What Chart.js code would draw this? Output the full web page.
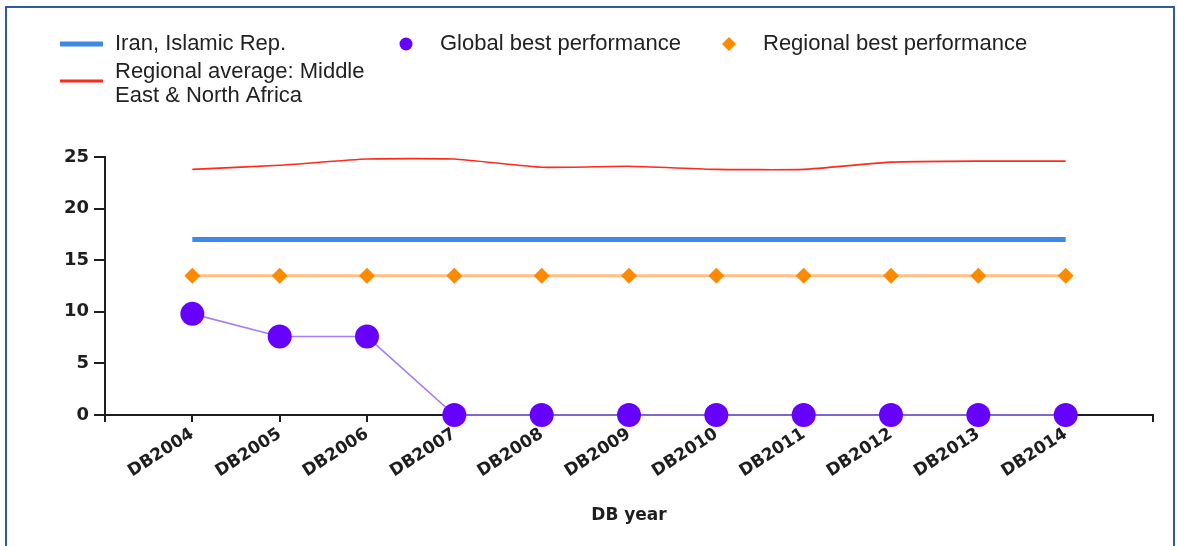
<!DOCTYPE html>
<html>
<head>
<meta charset="utf-8">
<script src="https://cdn.jsdelivr.net/npm/chart.js@4/dist/chart.umd.min.js"></script>
<style>
  html, body { margin: 0; padding: 0; background: #fff; }
  #wrap { position: relative; width: 1177px; height: 546px; overflow: hidden; }
  #frame { position: absolute; left: 5px; top: 6px; width: 1166px; height: 600px; border: 2px solid #2b5d9c; pointer-events: none; }
  canvas { position: absolute; left: 0; top: 0; }
</style>
</head>
<body>
<div id="wrap">
  <canvas id="chart" width="1177" height="546"></canvas>
  <div id="frame"></div>
</div>
<script>
// DB years on the x axis
const years = ['DB2004', 'DB2005', 'DB2006', 'DB2007', 'DB2008', 'DB2009', 'DB2010', 'DB2011', 'DB2012', 'DB2013', 'DB2014'];

// series values
const iran = [17, 17, 17, 17, 17, 17, 17, 17, 17, 17, 17];
const regionalAverage = [23.8, 24.2, 24.8, 24.8, 24.0, 24.1, 23.8, 23.8, 24.5, 24.6, 24.6];
const globalBest = [9.8, 7.6, 7.6, 0, 0, 0, 0, 0, 0, 0, 0];
const regionalBest = [13.5, 13.5, 13.5, 13.5, 13.5, 13.5, 13.5, 13.5, 13.5, 13.5, 13.5];

const yMin = 0;
const yMax = 25;
const yStep = 5;

const toPoints = (arr) => arr.map((v, i) => ({ x: i, y: v }));

const axisFont = { family: '"DejaVu Sans", Verdana, sans-serif', size: 17, weight: 'bold' };
const ink = '#1e1e1e';

// legend drawn on the canvas, two rows like the original
const legendLayout = [
    { dataset: 0, x: 60, y: 44, wrap: 1000 },
    { dataset: 1, x: 60, y: 72, wrap: 260 },
    { dataset: 2, x: 385, y: 44, wrap: 1000 },
    { dataset: 3, x: 708, y: 44, wrap: 1000 },
];

const wrapText = (ctx, text, maxWidth) => {
    const words = text.split(' ');
    const lines = [];
    let cur = '';
    words.forEach((w) => {
        const test = cur ? cur + ' ' + w : w;
        if (cur && ctx.measureText(test).width > maxWidth) {
            lines.push(cur);
            cur = w;
        } else {
            cur = test;
        }
    });
    if (cur) lines.push(cur);
    return lines;
};

const topLegend = {
    id: 'topLegend',
    afterDraw(chart) {
        const { ctx } = chart;
        ctx.save();
        ctx.font = '22px "Liberation Sans", Arial, sans-serif';
        ctx.textBaseline = 'middle';
        ctx.textAlign = 'left';
        const lineH = 24;
        legendLayout.forEach((item) => {
            const ds = chart.data.datasets[item.dataset];
            const lines = wrapText(ctx, ds.label, item.wrap);
            const sy = item.y + ((lines.length - 1) * lineH) / 2 - (lines.length > 1 ? 3 : 0);
            if (ds.pointRadius > 0) {
                const cx = item.x + 21;
                ctx.fillStyle = ds.pointBackgroundColor;
                ctx.beginPath();
                if (ds.pointStyle === 'rectRot') {
                    const r = 7;
                    ctx.moveTo(cx, sy - r);
                    ctx.lineTo(cx + r, sy);
                    ctx.lineTo(cx, sy + r);
                    ctx.lineTo(cx - r, sy);
                    ctx.closePath();
                } else {
                    ctx.arc(cx, sy, 6.5, 0, Math.PI * 2);
                }
                ctx.fill();
            } else {
                ctx.strokeStyle = ds.borderColor;
                ctx.lineWidth = ds.legendWidth || ds.borderWidth;
                ctx.beginPath();
                ctx.moveTo(item.x, sy);
                ctx.lineTo(item.x + 43, sy);
                ctx.stroke();
            }
            ctx.fillStyle = '#222';
            lines.forEach((ln, i) => ctx.fillText(ln, item.x + 55, item.y + i * lineH));
        });
        ctx.restore();
    },
};

new Chart(document.getElementById('chart'), {
    type: 'line',
    data: {
        datasets: [
            {
                label: 'Iran, Islamic Rep.',
                data: toPoints(iran),
                borderColor: '#3f88ea',
                borderWidth: 5,
                pointRadius: 0,
                order: 3,
            },
            {
                label: 'Regional average: Middle East & North Africa',
                data: toPoints(regionalAverage),
                borderColor: '#ff2a1c',
                borderWidth: 1.6,
                legendWidth: 3,
                tension: 0.15,
                pointRadius: 0,
                order: 4,
            },
            {
                label: 'Global best performance',
                data: toPoints(globalBest),
                borderColor: '#a57cff',
                borderWidth: 1.6,
                pointRadius: 12,
                pointHoverRadius: 12,
                pointBackgroundColor: '#6600ff',
                pointBorderWidth: 0,
                pointStyle: 'circle',
                order: 1,
            },
            {
                label: 'Regional best performance',
                data: toPoints(regionalBest),
                borderColor: '#ffc183',
                borderWidth: 3,
                pointRadius: 8,
                pointHoverRadius: 8,
                pointBackgroundColor: '#ff8a00',
                pointBorderWidth: 0,
                pointStyle: 'rectRot',
                order: 2,
            },
        ],
    },
    options: {
        responsive: false,
        animation: false,
        clip: false,
        layout: { padding: { top: 157, left: 0, right: 24, bottom: 16 } },
        plugins: {
            legend: { display: false },
            tooltip: { enabled: false },
        },
        scales: {
            x: {
                type: 'linear',
                min: -1,
                max: years.length,
                afterFit: (scale) => { scale.height = 115; },
                grid: { drawOnChartArea: false, drawTicks: true, tickLength: 7, color: ink, lineWidth: 2 },
                border: { display: true, color: ink, width: 2 },
                ticks: {
                    stepSize: 1,
                    autoSkip: false,
                    maxRotation: 33,
                    minRotation: 33,
                    padding: 2,
                    color: ink,
                    font: axisFont,
                    callback: (v) => years[v] || '',
                },
                title: { display: true, text: 'DB year', color: ink, font: { ...axisFont, size: 17 }, padding: { top: 4, bottom: 4 } },
            },
            y: {
                min: yMin,
                max: yMax,
                afterFit: (scale) => { scale.width = 105; },
                grid: { drawOnChartArea: false, drawTicks: true, tickLength: 11, color: ink, lineWidth: 2 },
                border: { display: true, color: ink, width: 2 },
                ticks: { stepSize: yStep, padding: 5, color: ink, font: { ...axisFont, size: 18 } },
            },
        },
    },
    plugins: [topLegend],
});
</script>
</body>
</html>
